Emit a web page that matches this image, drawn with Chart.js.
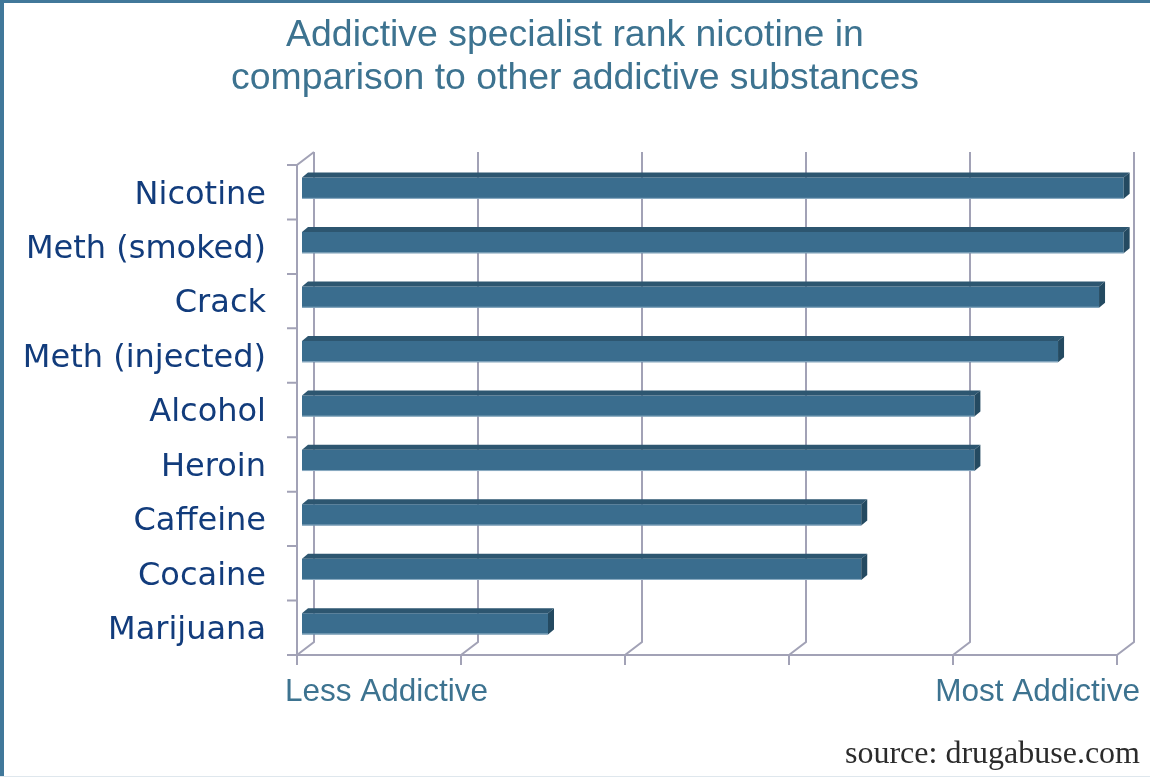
<!DOCTYPE html>
<html>
<head>
<meta charset="utf-8">
<script src="https://cdn.jsdelivr.net/npm/chart.js@4.4.1/dist/chart.umd.min.js"></script>
<style>
  html, body { margin: 0; padding: 0; background: #fff; }
  #wrap { width: 1150px; height: 777px; }
</style>
</head>
<body>
<div id="wrap"><canvas id="chart" width="1150" height="777"></canvas></div>
<script>
// substances, ranked from most to least addictive
var categories = ["Nicotine", "Meth (smoked)", "Crack", "Meth (injected)", "Alcohol", "Heroin", "Caffeine", "Cocaine", "Marijuana"];
var addictiveness = [5.01, 5.01, 4.86, 4.61, 4.10, 4.10, 3.41, 3.41, 1.50];
var scaleLabels = ["Less Addictive", "Most Addictive"];
var titleLines = ["Addictive specialist rank nicotine in", "comparison to other addictive substances"];
var sourceText = "source: drugabuse.com";

var GRID = "#a2a2b6";
var WALL_DX = 17, WALL_DY = -13;   // back wall offset
var BAR_DX = 5, BAR_DY = -4;       // bars sit a bit inside the box
var FACE_DX = 6, FACE_DY = -5;     // bar depth

var box3d = {
    id: "box3d",
    beforeDraw: function (chart) {
        var ctx = chart.ctx;
        ctx.save();
        ctx.fillStyle = "#fff";
        ctx.fillRect(0, 0, chart.width, chart.height);
        ctx.fillStyle = "#41789a";
        ctx.fillRect(0, 0, 4, chart.height);
        ctx.fillRect(0, 0, chart.width, 3);
        ctx.fillStyle = "#dfe7ed";
        ctx.fillRect(0, chart.height - 1, chart.width, 1);
        ctx.restore();
    },
    beforeDatasetsDraw: function (chart) {
        var ctx = chart.ctx;
        var xs = chart.scales.x, area = chart.chartArea;
        var left = area.left, right = area.right, top = area.top, bottom = area.bottom;
        ctx.save();
        ctx.strokeStyle = GRID;
        ctx.lineWidth = 2;
        ctx.beginPath();
        // back wall gridlines and floor diagonals
        for (var v = xs.min; v <= xs.max; v++) {
            var px = xs.getPixelForValue(v);
            ctx.moveTo(px + WALL_DX, top + WALL_DY);
            ctx.lineTo(px + WALL_DX, bottom + WALL_DY);
            ctx.lineTo(px, bottom);
            ctx.moveTo(px, bottom);
            ctx.lineTo(px, bottom + 10);
        }
        // front axes
        ctx.moveTo(left + WALL_DX, top + WALL_DY);
        ctx.lineTo(left, top);
        ctx.lineTo(left, bottom);
        ctx.lineTo(right, bottom);
        // category ticks
        var n = categories.length;
        for (var i = 0; i <= n; i++) {
            var py = top + (bottom - top) * i / n;
            ctx.moveTo(left - 10, py);
            ctx.lineTo(left, py);
        }
        ctx.stroke();
        ctx.restore();

        ctx.save();
        ctx.translate(BAR_DX, BAR_DY);
    },
    afterDatasetsDraw: function (chart) {
        var ctx = chart.ctx;
        var meta = chart.getDatasetMeta(0);
        meta.data.forEach(function (bar) {
            var p = bar.getProps(["x", "y", "base", "height"], true);
            var t = p.y - p.height / 2, b = p.y + p.height / 2;
            // top face
            ctx.fillStyle = "#2d5670";
            ctx.beginPath();
            ctx.moveTo(p.base, t);
            ctx.lineTo(p.base + FACE_DX, t + FACE_DY);
            ctx.lineTo(p.x + FACE_DX, t + FACE_DY);
            ctx.lineTo(p.x, t);
            ctx.closePath();
            ctx.fill();
            // end face
            ctx.fillStyle = "#244a61";
            ctx.beginPath();
            ctx.moveTo(p.x, t);
            ctx.lineTo(p.x + FACE_DX, t + FACE_DY);
            ctx.lineTo(p.x + FACE_DX, b + FACE_DY);
            ctx.lineTo(p.x, b);
            ctx.closePath();
            ctx.fill();
            // light lower edge
            ctx.fillStyle = "#8eaec4";
            ctx.fillRect(p.base, b - 1, p.x - p.base, 1);
        });
        ctx.restore();

        // axis end captions and source line
        ctx.save();
        ctx.fillStyle = "#3d7390";
        ctx.font = "31.5px 'Liberation Sans', Arial, sans-serif";
        ctx.textBaseline = "middle";
        ctx.textAlign = "left";
        ctx.fillText(scaleLabels[0], 285, 692);
        ctx.textAlign = "right";
        ctx.fillText(scaleLabels[1], 1140, 692);
        ctx.fillStyle = "#2b2b2b";
        ctx.font = "32px 'Liberation Serif', 'Times New Roman', serif";
        ctx.fillText(sourceText, 1140, 755);
        ctx.restore();
    }
};

var ctx = document.getElementById("chart");
var chart = new Chart(ctx, {
    type: "bar",
    data: {
        labels: categories,
        datasets: [
            {
                data: addictiveness,
                backgroundColor: "#3a6d8e",
                borderWidth: 0,
                barPercentage: 0.39,
                categoryPercentage: 1,
                clip: false,
            },
        ],
    },
    options: {
        indexAxis: "y",
        responsive: false,
        animation: false,
        layout: {
            padding: { left: 0, right: 0, top: 0, bottom: 122 },
        },
        plugins: {
            legend: { display: false },
            tooltip: { enabled: false },
            title: {
                display: true,
                text: titleLines,
                color: "#3d7390",
                font: { family: "'Liberation Sans', Arial, sans-serif", size: 37.4, weight: "normal", lineHeight: 1.16 },
                padding: { top: 14, bottom: 0 },
            },
        },
        scales: {
            x: {
                min: 0,
                max: 5,
                ticks: { display: false, stepSize: 1 },
                grid: { display: false, drawTicks: false },
                border: { display: false },
                afterFit: function (s) { s.height = 0; },
            },
            y: {
                ticks: {
                    color: "#123c7c",
                    padding: 31,
                    labelOffset: 3,
                    font: { family: "'DejaVu Sans', Verdana, sans-serif", size: 32 },
                },
                grid: { display: false, drawTicks: false },
                border: { display: false },
                afterFit: function (s) { s.width = 297; },
            },
            // empty right-hand margin so the plot ends where the last tick sits
            yRight: {
                type: "category",
                position: "right",
                ticks: { display: false },
                grid: { display: false, drawTicks: false },
                border: { display: false },
                afterFit: function (s) { s.width = 33; },
            },
        },
    },
    plugins: [box3d],
});
// push the plot box down to its place below the title
chart.options.plugins.title.padding.bottom = 165 - chart.chartArea.top;
chart.update();
</script>
</body>
</html>
